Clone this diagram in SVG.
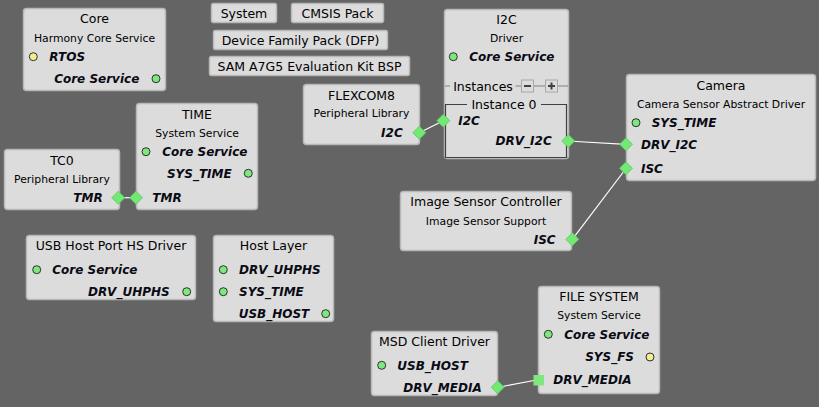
<svg xmlns="http://www.w3.org/2000/svg" xmlns:xlink="http://www.w3.org/1999/xlink" width="819" height="407" viewBox="0 0 819 407">
<style>
.bg{fill:#646464}
.n{fill:#dcdcdc;stroke:#b8b8b8;stroke-width:1.5}
.b{fill:#dcdcdc;stroke:#b8b8b8;stroke-width:1.5}
.t{font-family:"DejaVu Sans",Verdana,sans-serif;font-size:12.5px;fill:#000;text-anchor:middle}
.s{font-family:"DejaVu Sans",Verdana,sans-serif;font-size:10.8px;fill:#000;text-anchor:middle}
.p{font-family:"DejaVu Sans",Verdana,sans-serif;font-size:12px;font-weight:bold;font-style:italic;fill:#0a0a14}
.r{text-anchor:end}
.g{fill:#7de87d;stroke:#303030;stroke-width:1}
.y{fill:#f4ec90;stroke:#303030;stroke-width:1}
.d{fill:#74e874;stroke:#5cc85c;stroke-width:0.8}
.sq{fill:#7ee87e}
.w{stroke:#fff;stroke-width:1.2;fill:none}
.ib{fill:none;stroke:#404040;stroke-width:1.2}
.ln{stroke:#808080;stroke-width:1;fill:none}
</style>
<defs>
<path id="dia" class="d" d="M0,-6.5 L6.5,0 L0,6.5 L-6.5,0Z"/>
</defs>
<rect class="bg" x="0" y="0" width="819" height="407"/>

<g id="connectors">
<line class="w" x1="118" y1="197.7" x2="136" y2="197.7"/>
<line class="w" x1="419.3" y1="132.7" x2="443.3" y2="120.7"/>
<polyline class="w" points="568.3,141 576,141.5 626,144.3"/>
<line class="w" x1="572.3" y1="239.3" x2="626" y2="168.5"/>
<line class="w" x1="497.7" y1="387.3" x2="534" y2="380.5"/>
</g>

<g id="btn-system"><rect class="b" x="211.5" y="3.5" width="65" height="19" rx="2"/><text class="t" x="244" y="18">System</text></g>
<g id="btn-cmsis"><rect class="b" x="291.5" y="3.5" width="92" height="19" rx="2"/><text class="t" x="337.5" y="18">CMSIS Pack</text></g>
<g id="btn-dfp"><rect class="b" x="213.5" y="30.5" width="174" height="19" rx="2"/><text class="t" x="300.5" y="45">Device Family Pack (DFP)</text></g>
<g id="btn-bsp"><rect class="b" x="209.5" y="56.5" width="200" height="19" rx="2"/><text class="t" x="309.5" y="71">SAM A7G5 Evaluation Kit BSP</text></g>

<g id="core">
<rect class="n" x="23.5" y="8.5" width="142" height="82" rx="3"/>
<text class="t" x="94.5" y="23">Core</text>
<text class="s" x="94.5" y="41.5">Harmony Core Service</text>
<circle class="y" cx="33.3" cy="56.7" r="4"/>
<text class="p" x="49.3" y="61">RTOS</text>
<text class="p r" x="139.3" y="83">Core Service</text>
<circle class="g" cx="156" cy="78.7" r="4"/>
</g>

<g id="time">
<rect class="n" x="136.5" y="103.5" width="121" height="106" rx="3"/>
<text class="t" x="197" y="118.5">TIME</text>
<text class="s" x="197" y="136.5">System Service</text>
<circle class="g" cx="146" cy="151.7" r="4"/>
<text class="p" x="162.3" y="156">Core Service</text>
<text class="p r" x="231.7" y="177.6">SYS_TIME</text>
<circle class="g" cx="248.3" cy="173.3" r="4"/>
<text class="p" x="152.3" y="202">TMR</text>
<use href="#dia" x="136" y="197.7"/>
</g>

<g id="tc0">
<rect class="n" x="4.5" y="149.5" width="115" height="60" rx="3"/>
<text class="t" x="62" y="164.5">TC0</text>
<text class="s" x="62" y="182.5">Peripheral Library</text>
<text class="p r" x="102.7" y="202">TMR</text>
<use href="#dia" x="118.3" y="197.7"/>
</g>

<g id="flexcom8">
<rect class="n" x="303.5" y="84.5" width="116" height="60" rx="3"/>
<text class="t" x="361.5" y="99.5">FLEXCOM8</text>
<text class="s" x="361.5" y="117">Peripheral Library</text>
<text class="p r" x="402.7" y="137">I2C</text>
<use href="#dia" x="419.3" y="132.7"/>
</g>

<g id="i2c">
<rect class="n" x="444.5" y="9.5" width="124" height="149" rx="3"/>
<text class="t" x="506.5" y="23.5">I2C</text>
<text class="s" x="506.5" y="41.5">Driver</text>
<circle class="g" cx="453.3" cy="56.7" r="4"/>
<text class="p" x="469.3" y="61">Core Service</text>
<line class="ln" x1="445" y1="86" x2="450" y2="86"/>
<line class="ln" x1="515.5" y1="86" x2="568" y2="86"/>
<text class="t" x="483" y="90.5">Instances</text>
<rect x="521.5" y="80" width="12" height="12" fill="#dcdcdc" stroke="#a8a8a8"/>
<line x1="524" y1="86" x2="531" y2="86" stroke="#404040" stroke-width="2"/>
<rect x="545.5" y="80" width="12" height="12" fill="#dcdcdc" stroke="#a8a8a8"/>
<line x1="548" y1="86" x2="555" y2="86" stroke="#404040" stroke-width="2"/>
<line x1="551.5" y1="82.5" x2="551.5" y2="89.5" stroke="#404040" stroke-width="2"/>
<path class="ib" d="M467,104.5 H445.5 V157.5 H566.5 V104.5 H541"/>
<text class="t" x="504" y="109">Instance 0</text>
<text class="p" x="458.3" y="125">I2C</text>
<use href="#dia" x="443.3" y="120.7"/>
<text class="p r" x="551.7" y="145.3">DRV_I2C</text>
<use href="#dia" x="568.3" y="141"/>
</g>

<g id="camera">
<rect class="n" x="626.5" y="74.5" width="189" height="106" rx="3"/>
<text class="t" x="721" y="89.5">Camera</text>
<text class="s" x="721" y="108">Camera Sensor Abstract Driver</text>
<circle class="g" cx="636" cy="122.7" r="4"/>
<text class="p" x="651.7" y="127">SYS_TIME</text>
<use href="#dia" x="626" y="144.3"/>
<text class="p" x="641" y="148.6">DRV_I2C</text>
<use href="#dia" x="626" y="168.3"/>
<text class="p" x="641" y="173">ISC</text>
</g>

<g id="isc">
<rect class="n" x="400.5" y="191.5" width="171" height="59" rx="3"/>
<text class="t" x="486" y="206">Image Sensor Controller</text>
<text class="s" x="486" y="224.5">Image Sensor Support</text>
<text class="p r" x="555.7" y="243.6">ISC</text>
<use href="#dia" x="572.3" y="239.3"/>
</g>

<g id="usbhs">
<rect class="n" x="26.5" y="235.5" width="169" height="64" rx="3"/>
<text class="t" x="111" y="250">USB Host Port HS Driver</text>
<circle class="g" cx="36.7" cy="269.7" r="4"/>
<text class="p" x="52.3" y="274">Core Service</text>
<text class="p r" x="169.7" y="296">DRV_UHPHS</text>
<circle class="g" cx="186.7" cy="291.7" r="4"/>
</g>

<g id="hostlayer">
<rect class="n" x="213.5" y="235.5" width="120" height="86" rx="3"/>
<text class="t" x="273.5" y="250">Host Layer</text>
<circle class="g" cx="223.3" cy="269.7" r="4"/>
<text class="p" x="239" y="274">DRV_UHPHS</text>
<circle class="g" cx="223.3" cy="291.7" r="4"/>
<text class="p" x="239" y="296">SYS_TIME</text>
<text class="p r" x="309.3" y="318">USB_HOST</text>
<circle class="g" cx="325.7" cy="313.7" r="4"/>
</g>

<g id="msd">
<rect class="n" x="371.5" y="331.5" width="126" height="64" rx="3"/>
<text class="t" x="434.5" y="346">MSD Client Driver</text>
<circle class="g" cx="381.7" cy="365.3" r="4"/>
<text class="p" x="397.3" y="369.6">USB_HOST</text>
<text class="p r" x="481.7" y="391.6">DRV_MEDIA</text>
<use href="#dia" x="497.7" y="387.3"/>
</g>

<g id="filesystem">
<rect class="n" x="538.5" y="286.5" width="121" height="107" rx="3"/>
<text class="t" x="599" y="301">FILE SYSTEM</text>
<text class="s" x="599" y="319">System Service</text>
<circle class="g" cx="548.3" cy="334.3" r="4"/>
<text class="p" x="564.3" y="338.6">Core Service</text>
<text class="p r" x="634" y="361.3">SYS_FS</text>
<circle class="y" cx="650" cy="357" r="4"/>
<rect class="sq" x="533.5" y="375" width="10.5" height="10.5"/>
<text class="p" x="553.3" y="384.3">DRV_MEDIA</text>
</g>
</svg>
